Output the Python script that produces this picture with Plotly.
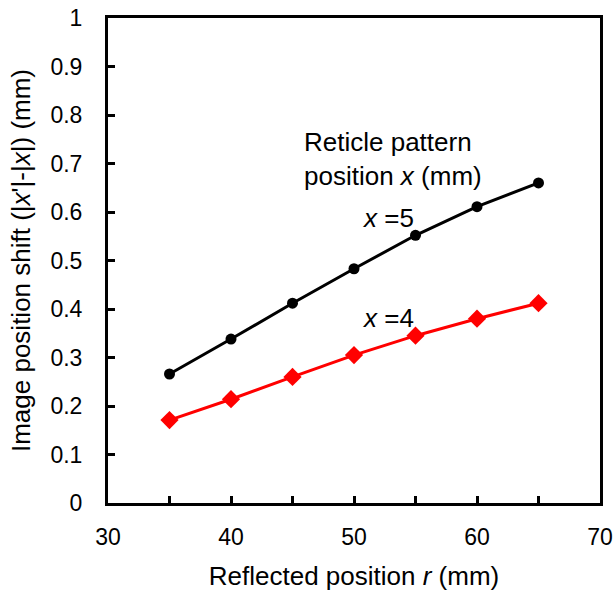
import plotly.graph_objects as go

r_mm = [35, 40, 45, 50, 55, 60, 65]
shift_x5 = [0.266, 0.338, 0.412, 0.483, 0.552, 0.611, 0.660]
shift_x4 = [0.171, 0.214, 0.260, 0.305, 0.345, 0.380, 0.412]

FONT = "Liberation Sans, Arial, sans-serif"

fig = go.Figure()
fig.add_trace(go.Scatter(x=r_mm, y=shift_x5, mode="lines+markers",
                         line=dict(color="black", width=3),
                         marker=dict(symbol="circle", size=11, color="black"),
                         showlegend=False))
fig.add_trace(go.Scatter(x=r_mm, y=shift_x4, mode="lines+markers",
                         line=dict(color="#ff0000", width=3),
                         marker=dict(symbol="diamond", size=14, color="#ff0000"),
                         showlegend=False))

fig.add_annotation(x=45.77, y=0.709, xref="x", yref="y", xanchor="left", yanchor="middle",
                   text="Reticle pattern<br>position <i>x</i> (mm)", showarrow=False, align="left",
                   font=dict(family=FONT, size=26, color="black"))
fig.add_annotation(x=52.76, y=0.588, xref="x", yref="y", text="<i>x</i> =5", showarrow=False,
                   font=dict(family=FONT, size=26, color="black"))
fig.add_annotation(x=52.76, y=0.381, xref="x", yref="y", text="<i>x</i> =4", showarrow=False,
                   font=dict(family=FONT, size=26, color="black"))

fig.update_layout(
    width=614, height=591,
    margin=dict(l=108, r=14, t=18, b=88),
    plot_bgcolor="white", paper_bgcolor="white",
    font=dict(family=FONT, size=23, color="black"),
    xaxis=dict(range=[30, 70], tickvals=[30, 35, 40, 45, 50, 55, 60, 65, 70],
               ticktext=["30", "", "40", "", "50", "", "60", "", "70"],
               ticks="inside", ticklen=7, tickwidth=2.5, tickcolor="black",
               tickfont=dict(size=23), ticklabelstandoff=11, ticklabeloverflow="allow",
               showline=True, linecolor="black", linewidth=3, mirror=True,
               showgrid=False, zeroline=False, automargin=False,
               title=dict(text="Reflected position <i>r</i> (mm)", font=dict(size=26), standoff=21)),
    yaxis=dict(range=[0, 1], tickvals=[i / 10 for i in range(11)],
               ticktext=["0", "0.1", "0.2", "0.3", "0.4", "0.5", "0.6", "0.7", "0.8", "0.9", "1"],
               ticks="inside", ticklen=7, tickwidth=2.5, tickcolor="black",
               tickfont=dict(size=23), ticklabelstandoff=18, ticklabeloverflow="allow",
               showline=True, linecolor="black", linewidth=3, mirror=True,
               showgrid=False, zeroline=False, automargin=False,
               title=dict(text="Image position shift (|<i>x</i>'|-|<i>x</i>|) (mm)", font=dict(size=26), standoff=13)),
)

fig.write_html("out.html", config={"displayModeBar": False},
               post_script="document.body.style.margin='0';document.documentElement.style.overflow='hidden';")
